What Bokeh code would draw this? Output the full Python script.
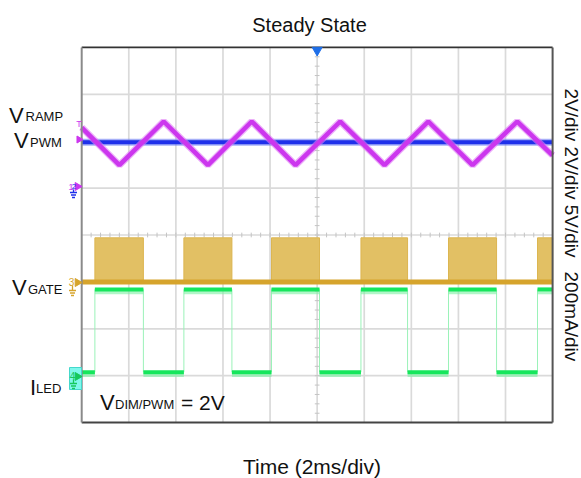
import math
import numpy as np
from bokeh.plotting import figure
from bokeh.models import Label, Range1d
from bokeh.embed import file_html
from bokeh.resources import INLINE

# ---- data (in oscilloscope divisions: x 0..10, y 0..8) ----
ramp_x = [0.0, 0.80, 1.74, 2.68, 3.61, 4.54, 5.49, 6.43, 7.36, 8.30, 9.25, 10.0]
ramp_y = [6.29, 5.49, 6.42, 5.49, 6.42, 5.49, 6.42, 5.49, 6.42, 5.49, 6.42, 5.70]
vpwm_level = 5.98
gate_on = [0.28, 2.17, 4.03, 5.93, 7.79, 9.68]
gate_off = [1.31, 3.19, 5.05, 6.92, 8.81, 10.0]
gate_low = 3.0
gate_high = 3.94
iled_low = 1.075
iled_high = 2.84
right_labels = ["2V/div 2V/div 5V/div", "200mA/div"]

FONT = "Liberation Sans"
W, H = 581, 478


# canvas pixel -> division coordinates (for placing texts / decorations)
def X(px):
    return (px - 81.2) / 47.09


def Y(py):
    return (422.1 - py) / 46.9


p = figure(width=W, height=H, output_backend="svg", toolbar_location=None, title=None,
           x_range=Range1d(X(0), X(W)), y_range=Range1d(Y(H), Y(0)),
           x_axis_type=None, y_axis_type=None,
           min_border_left=0, min_border_right=0, min_border_top=0, min_border_bottom=0)
p.outline_line_color = None
p.background_fill_color = "white"
p.border_fill_color = "white"

# ---- graticule ----
p.segment(x0=list(range(1, 10)), y0=0, x1=list(range(1, 10)), y1=8, line_color="#dadada", line_width=1.7)
p.segment(x0=0, y0=list(range(1, 8)), x1=10, y1=list(range(1, 8)), line_color="#dadada", line_width=1.7)
ty = np.arange(0.2, 8.0, 0.2)
p.segment(x0=4.95, y0=ty, x1=5.05, y1=ty, line_color="#c4c4c4", line_width=1)
tx = np.arange(0.2, 10.0, 0.2)
p.segment(x0=tx, y0=3.95, x1=tx, y1=4.05, line_color="#c4c4c4", line_width=1)

# ---- channel 3 : V_GATE ----
p.quad(left=gate_on, right=gate_off, bottom=gate_low, top=gate_high,
       fill_color="#e2c064", line_color="#dcb550", line_width=1)

# ---- channel 4 : I_LED ----
hx0, hx1, lx0, lx1 = [], [], [0.0], []
for on, off in zip(gate_on, gate_off):
    lx1.append(on)
    hx0.append(on)
    hx1.append(off)
    lx0.append(off)
lx0 = lx0[:len(lx1)]
p.segment(x0=gate_on, y0=iled_low, x1=gate_on, y1=iled_high, line_color="#9af2b8", line_width=1)
p.segment(x0=gate_off[:-1], y0=iled_low, x1=gate_off[:-1], y1=iled_high, line_color="#9af2b8", line_width=1)
p.segment(x0=hx0, y0=iled_high - 0.04, x1=hx1, y1=iled_high - 0.04, line_color="#7df0a4", line_width=6, line_alpha=0.6)
p.segment(x0=hx0, y0=iled_high, x1=hx1, y1=iled_high, line_color="#16e65c", line_width=4)
p.segment(x0=lx0, y0=iled_low - 0.04, x1=lx1, y1=iled_low - 0.04, line_color="#7df0a4", line_width=6, line_alpha=0.6)
p.segment(x0=lx0, y0=iled_low, x1=lx1, y1=iled_low, line_color="#16e65c", line_width=4)

# gate baseline
p.line([0, 10], [gate_low, gate_low], line_color="#d6a42c", line_width=5)

# ---- channel 2 : V_PWM ----
p.line([0, 10], [vpwm_level, vpwm_level], line_color="#6b7cf4", line_width=7, line_alpha=0.6)
p.line([0, 10], [vpwm_level, vpwm_level], line_color="#1f30ea", line_width=4)

# ---- channel 1 : V_RAMP ----
p.line(ramp_x, ramp_y, line_color="#e07cf5", line_width=7, line_alpha=0.6)
p.line(ramp_x, ramp_y, line_color="#cc36ee", line_width=4.5)

# ---- frame borders ----
p.segment(x0=0, y0=8, x1=10, y1=8, line_color="#333333", line_width=1.8)
p.segment(x0=0, y0=0, x1=10, y1=0, line_color="#444444", line_width=2)
p.segment(x0=10, y0=0, x1=10, y1=8, line_color="#555555", line_width=2)
p.segment(x0=0, y0=0, x1=0, y1=8, line_color="#8a8a8a", line_width=2)

# ---- markers ----
p.scatter([5.0], [7.94], marker="inverted_triangle", size=10, fill_color="#1f6fe8", line_color="#1f6fe8")
# ch1 offset and trigger
p.scatter([X(78.5)], [Y(139)], marker="triangle", angle=-math.pi / 2, size=7, fill_color="#cc36ee", line_color="#cc36ee")
p.text([X(78.5)], [Y(128)], text=["T"], text_font_size="9px", text_color="#cc36ee", text_align="center")
# ch1/2 ground
p.scatter([X(77)], [Y(186)], marker="triangle", angle=-math.pi / 2, size=8, fill_color="#cc36ee", line_color="#cc36ee")
p.text([X(70.5)], [Y(189)], text=["1"], text_font_size="9px", text_color="#cc36ee", text_align="center")
p.text([X(73.5)], [Y(188)], text=["2"], text_font_size="8px", text_color="#1f30ea", text_align="center")
p.segment(x0=[X(73), X(69.5), X(70.5), X(71.5)], y0=[Y(189), Y(192), Y(194.5), Y(197)],
          x1=[X(73), X(76.5), X(75.5), X(74.5)], y1=[Y(192), Y(192), Y(194.5), Y(197)],
          line_color="#1f30ea", line_width=1.3)
# ch3 ground
p.scatter([X(77)], [Y(282)], marker="triangle", angle=-math.pi / 2, size=8, fill_color="#d6a42c", line_color="#d6a42c")
p.text([X(71)], [Y(285)], text=["3"], text_font_size="10px", text_color="#d6a42c", text_align="center")
p.segment(x0=[X(72), X(68.5), X(69.5), X(70.5)], y0=[Y(285), Y(290), Y(292.5), Y(295)],
          x1=[X(72), X(75.5), X(74.5), X(73.5)], y1=[Y(290), Y(290), Y(292.5), Y(295)],
          line_color="#d6a42c", line_width=1.3)
# ch4 ground (selected)
p.quad(left=X(69), right=X(81), bottom=Y(389), top=Y(367), fill_color="#80f8ec", line_color="#45d8cc", line_width=1)
p.scatter([X(77)], [Y(376)], marker="triangle", angle=-math.pi / 2, size=8, fill_color="#16c85c", line_color="#16c85c")
p.text([X(72)], [Y(379)], text=["4"], text_font_size="10px", text_color="#16c85c", text_align="center")
p.segment(x0=[X(73), X(69.5), X(70.5), X(71.5)], y0=[Y(379), Y(383), Y(385.5), Y(388)],
          x1=[X(73), X(76.5), X(75.5), X(74.5)], y1=[Y(383), Y(383), Y(385.5), Y(388)],
          line_color="#16c85c", line_width=1.3)


# ---- texts ----
def lab(px, py, txt, size, align="left", angle=0.0, baseline="alphabetic"):
    p.add_layout(Label(x=X(px), y=Y(py), text=txt, text_font=FONT, text_font_size=f"{size}px",
                       text_color="#111111", text_align=align, text_baseline=baseline, angle=angle))


lab(309, 24, "Steady State", 20, align="center")
lab(311.5, 466, "Time (2ms/div)", 21, align="center")

lab(8.5, 115, "V", 22)
lab(25, 116, "RAMP", 13)
lab(13.5, 140, "V", 22)
lab(29.5, 141.5, "PWM", 13)
lab(11.5, 286.5, "V", 22)
lab(27.5, 289, "GATE", 13)
lab(29.5, 386.5, "I", 22)
lab(35.5, 388, "LED", 13)

lab(99.5, 401.5, "V", 22)
lab(114.5, 404, "DIM/PWM", 13)
lab(180.5, 401.5, "= 2V", 21)

lab(571, 88, right_labels[0], 19, angle=-math.pi / 2, baseline="middle")
lab(571, 271, right_labels[1], 19, angle=-math.pi / 2, baseline="middle")

open("out.html", "w").write(file_html(p, INLINE))
